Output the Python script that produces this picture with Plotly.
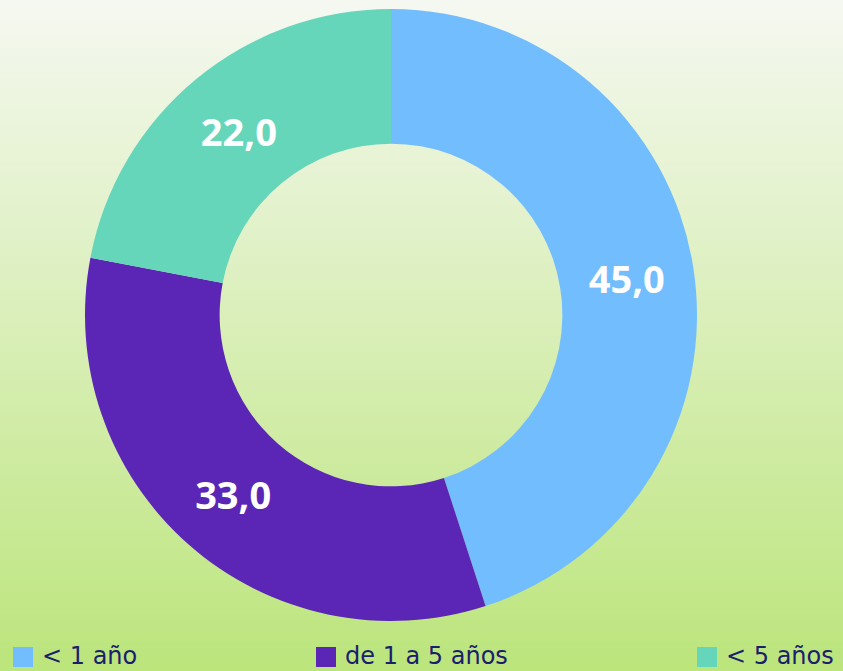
import plotly.graph_objects as go

# Data
categories = ["< 1 año", "de 1 a 5 años", "< 5 años"]
values = [45.0, 33.0, 22.0]
colors = ["#72BDFE", "#5B26B5", "#66D6BA"]

W, H = 843, 671

fig = go.Figure()

fig.add_trace(go.Pie(
    labels=categories,
    values=values,
    sort=False,
    direction="clockwise",
    rotation=0,
    hole=0.56,
    marker=dict(colors=colors, line=dict(width=0)),
    texttemplate="%{value:.1f}",
    textposition="inside",
    insidetextorientation="horizontal",
    textfont=dict(family="Open Sans", size=38, color="white", weight="bold"),
    domain=dict(x=[(391 - 306) / W, (391 + 306) / W], y=[1 - 621 / H, 1 - 9 / H]),
    showlegend=False,
    hoverinfo="label+value",
))

# Vertical background gradient, built from thin horizontal bands
top = (245, 248, 241)
bottom = (188, 229, 124)
n = 120
shapes = []
for i in range(n):
    t = i / (n - 1)
    c = tuple(round(top[k] + (bottom[k] - top[k]) * t) for k in range(3))
    y1 = 1 - i / n
    y0 = 1 - (i + 1) / n
    shapes.append(dict(type="rect", xref="paper", yref="paper", x0=0, x1=1,
                       y0=y0 - 0.001, y1=y1 + 0.001, layer="below",
                       line=dict(width=0), fillcolor=f"rgb{c}"))

# Legend drawn along the bottom edge
legend_x = [13, 316, 697]
annotations = []
for cat, col, lx in zip(categories, colors, legend_x):
    shapes.append(dict(type="rect", xref="paper", yref="paper",
                       x0=lx / W, x1=(lx + 20) / W, y0=1 - 667 / H, y1=1 - 647 / H,
                       line=dict(width=0), fillcolor=col, layer="above"))
    annotations.append(dict(text=cat, xref="paper", yref="paper",
                            x=(lx + 27) / W, y=1 - 656 / H, xanchor="left", yanchor="middle",
                            showarrow=False,
                            font=dict(family="DejaVu Sans", size=24, color="#1B1E6C")))

fig.update_layout(
    width=W, height=H,
    margin=dict(l=0, r=0, t=0, b=0),
    paper_bgcolor="rgb(245,248,241)",
    plot_bgcolor="rgba(0,0,0,0)",
    separators=",.",
    shapes=shapes,
    annotations=annotations,
    showlegend=False,
)

fig.write_html("out.html")
